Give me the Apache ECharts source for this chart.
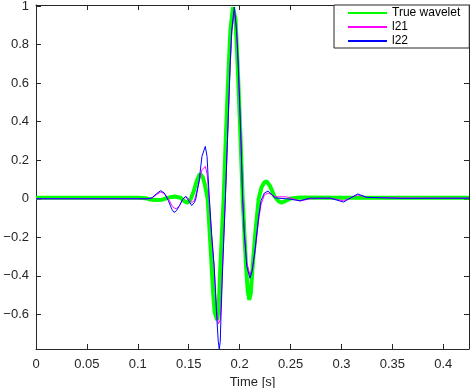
<!DOCTYPE html>
<html>
<head>
<meta charset="utf-8">
<script src="https://cdn.jsdelivr.net/npm/echarts@6/dist/echarts.min.js"></script>
<style>
html,body{margin:0;padding:0;background:#fff;}
#c{width:471px;height:388px;}
</style>
</head>
<body>
<div id="c"></div>
<script>
// ---- data ----
const seriesNames = ['True wavelet', 'l21', 'l22'];
const xTicks = [0, 0.05, 0.1, 0.15, 0.2, 0.25, 0.3, 0.35, 0.4];
const yTicks = [-0.6, -0.4, -0.2, 0, 0.2, 0.4, 0.6, 0.8, 1];
const X_MIN = 0, X_MAX = 0.4253;
const Y_MIN = -0.78, Y_MAX = 1.006;

const timeTrue = [0, 0.05, 0.1, 0.108, 0.112, 0.118, 0.124, 0.13, 0.136, 0.142,
  0.146, 0.149, 0.152, 0.155, 0.158, 0.161, 0.164, 0.166, 0.1686, 0.170,
  0.172, 0.174, 0.1755, 0.178, 0.1795, 0.181, 0.1843, 0.1866, 0.1893, 0.191,
  0.1935, 0.196, 0.1981, 0.2007, 0.203, 0.2063, 0.208, 0.2095, 0.211, 0.2128,
  0.2154, 0.2187, 0.2215, 0.2243, 0.2266, 0.230, 0.234, 0.238, 0.241, 0.245,
  0.25, 0.26, 0.3, 0.4253];
const valTrue = [0.005, 0.005, 0.005, 0.003, -0.004, -0.006, -0.005, 0.006, 0.012, 0.005,
  -0.014, -0.02, -0.002, 0.04, 0.095, 0.13, 0.11, 0.07, 0.0, -0.12,
  -0.30, -0.49, -0.59, -0.63, -0.56, -0.36, 0.0, 0.34, 0.69, 0.88,
  0.995, 0.93, 0.69, 0.34, 0.0, -0.35, -0.48, -0.525, -0.49, -0.35,
  -0.18, 0.0, 0.06, 0.085, 0.09, 0.065, 0.015, -0.012, -0.02, -0.012,
  0.002, 0.007, 0.005, 0.005];

const timeEst = [0, 0.05, 0.1, 0.11, 0.114, 0.118, 0.1225, 0.126, 0.13, 0.1335,
  0.1356, 0.138, 0.141, 0.144, 0.147, 0.150, 0.153, 0.1555, 0.157, 0.1604,
  0.163, 0.1663, 0.168, 0.169, 0.1703, 0.1725, 0.175, 0.1775, 0.179, 0.180,
  0.181, 0.1817, 0.1834, 0.186, 0.1883, 0.1906, 0.1922, 0.1948, 0.1971, 0.1987,
  0.2011, 0.203, 0.2046, 0.207, 0.2102, 0.2125, 0.2151, 0.2187, 0.221, 0.2243,
  0.228, 0.232, 0.2348, 0.246, 0.2593, 0.269, 0.289, 0.302, 0.316, 0.325,
  0.34, 0.36, 0.4253];
const valL21 = [0, 0, 0, 0, 0.004, 0.02, 0.035, 0.028, 0.0, -0.035,
  -0.048, -0.052, -0.035, -0.005, 0.012, 0.0, -0.02, -0.01, 0.02, 0.09,
  0.15, 0.168, 0.13, 0.07, -0.03, -0.2, -0.36, -0.58, -0.65, -0.66,
  -0.63, -0.55, -0.33, 0.0, 0.33, 0.68, 0.86, 0.98, 0.86, 0.68,
  0.33, 0.0, -0.17, -0.33, -0.397, -0.36, -0.28, -0.11, -0.03, 0.02,
  0.03, 0.02, 0.01, 0.01, -0.012, 0.0, 0.003, -0.01, 0.02, 0.007,
  0.006, 0.004, 0.003];
const valL22 = [0, 0, 0, 0, 0.005, 0.025, 0.042, 0.03, -0.01, -0.055,
  -0.071, -0.062, -0.035, -0.003, 0.012, -0.01, -0.035, -0.02, 0.0, 0.10,
  0.22, 0.272, 0.22, 0.12, 0.0, -0.18, -0.35, -0.61, -0.74, -0.78,
  -0.74, -0.61, -0.35, 0.0, 0.342, 0.69, 0.87, 0.995, 0.87, 0.69,
  0.342, 0.0, -0.18, -0.35, -0.413, -0.37, -0.266, -0.092, -0.01, 0.03,
  0.04, 0.02, 0.004, 0.0, -0.01, 0.003, 0.003, -0.017, 0.025, 0.007,
  0.005, 0.002, 0.003];

// ---- chart ----
const FONT = 'Liberation Sans, Arial, Helvetica, sans-serif';
const AX = '#262626';
const zip = (t, v) => t.map((x, i) => [x, v[i]]);
const fmt = v => {
  const r = Number(v.toFixed(3));
  return (r < 0 ? '\u2212' : '') + String(Math.abs(r));
};

const axisCommon = {
  type: 'value',
  axisLine: { show: true, onZero: false, lineStyle: { color: AX, width: 1 } },
  axisTick: { show: true, inside: true, length: 5, lineStyle: { color: AX, width: 1 } },
  splitLine: { show: false }
};

const chart = echarts.init(document.getElementById('c'), null, { renderer: 'canvas' });
chart.setOption({
  animation: false,
  backgroundColor: '#ffffff',
  textStyle: { fontFamily: FONT },
  grid: { left: 36, right: 2, top: 5, bottom: 39, containLabel: false, outerBoundsMode: 'none' },
  legend: {
    data: seriesNames,
    orient: 'vertical',
    left: 334, top: 5,
    padding: [2, 9, 1, 13],
    itemGap: 2,
    itemWidth: 39, itemHeight: 15,
    itemStyle: { opacity: 0 },
    backgroundColor: '#ffffff',
    borderColor: AX, borderWidth: 1, borderRadius: 0,
    textStyle: { fontSize: 12, color: '#000', fontFamily: FONT }
  },
  xAxis: [
    Object.assign({}, axisCommon, {
      position: 'bottom', min: X_MIN, max: X_MAX, interval: 0.05,
      name: 'Time [s]', nameLocation: 'middle', nameGap: 24,
      nameTextStyle: { fontSize: 13, color: AX, fontFamily: FONT },
      axisLabel: {
        fontSize: 13, color: AX, margin: 9, fontFamily: FONT,
        showMaxLabel: false,
        formatter: v => xTicks.some(t => Math.abs(t - v) < 1e-9) ? fmt(v) : ''
      }
    }),
    Object.assign({}, axisCommon, {
      position: 'top', min: X_MIN, max: X_MAX, interval: 0.05,
      axisLabel: { show: false }
    })
  ],
  yAxis: [
    Object.assign({}, axisCommon, {
      position: 'left', min: Y_MIN, max: Y_MAX, minInterval: 0.2, maxInterval: 0.2,
      axisLabel: {
        fontSize: 13, color: AX, margin: 7, fontFamily: FONT,
        showMinLabel: false, showMaxLabel: false,
        formatter: v => yTicks.some(t => Math.abs(t - v) < 1e-9) ? fmt(v) : ''
      }
    }),
    Object.assign({}, axisCommon, {
      position: 'right', min: Y_MIN, max: Y_MAX, minInterval: 0.2, maxInterval: 0.2,
      axisLabel: { show: false }
    })
  ],
  series: [
    { name: seriesNames[0], type: 'line', data: zip(timeTrue, valTrue), symbol: 'none',
      color: '#00ff00', lineStyle: { color: '#00ff00', width: 4 }, z: 2 },
    { name: seriesNames[1], type: 'line', data: zip(timeEst, valL21), symbol: 'none',
      color: '#ff00ff', lineStyle: { color: '#ff00ff', width: 1 }, z: 3 },
    { name: seriesNames[2], type: 'line', data: zip(timeEst, valL22), symbol: 'none',
      color: '#0000ff', lineStyle: { color: '#0000ff', width: 1 }, z: 4 }
  ]
});
</script>
</body>
</html>
